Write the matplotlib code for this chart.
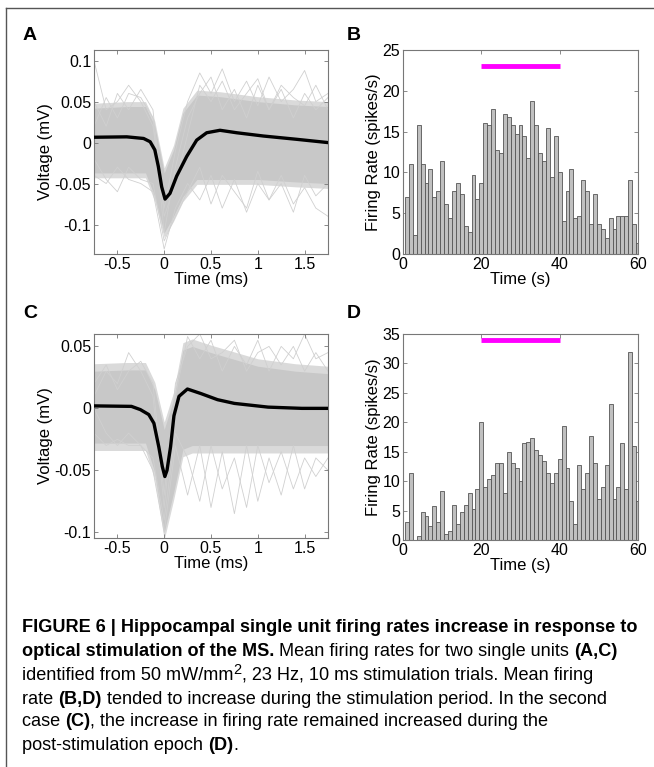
import numpy as np
import matplotlib
matplotlib.use("Agg")
import matplotlib.pyplot as plt
from matplotlib.lines import Line2D

plt.rcParams['font.family'] = ['Liberation Sans', 'DejaVu Sans']

# ---- waveform data (panel A) ----
t_mean_a = [-0.75, -0.4, -0.22, -0.15, -0.1, -0.063, -0.027, 0.009, 0.062, 0.133, 0.24, 0.347, 0.454, 0.596, 0.774, 1.06, 1.415, 1.75]
v_mean_a = [0.0065, 0.007, 0.005, 0.001, -0.009, -0.029, -0.054, -0.069, -0.062, -0.041, -0.017, 0.003, 0.012, 0.015, 0.012, 0.008, 0.004, 0.0]
t_env_a = [-0.75, -0.4, -0.2, -0.1, 0.0, 0.1, 0.2, 0.35, 0.6, 1.0, 1.4, 1.75]
up_env_a = [0.042, 0.044, 0.044, 0.020, -0.037, -0.009, 0.036, 0.058, 0.056, 0.050, 0.046, 0.044]
lo_env_a = [-0.037, -0.037, -0.037, -0.066, -0.110, -0.090, -0.066, -0.045, -0.045, -0.045, -0.048, -0.050]

# ---- waveform data (panel C) ----
t_mean_c = [-0.75, -0.35, -0.255, -0.165, -0.11, -0.058, -0.02, 0.007, 0.03, 0.068, 0.104, 0.158, 0.248, 0.39, 0.57, 0.75, 1.11, 1.47, 1.75]
v_mean_c = [0.002, 0.0016, -0.001, -0.005, -0.012, -0.031, -0.047, -0.055, -0.05, -0.031, -0.006, 0.0097, 0.0156, 0.012, 0.007, 0.004, 0.001, 0.0, 0.0]
t_env_c = [-0.75, -0.4, -0.2, -0.1, 0.0, 0.1, 0.2, 0.3, 0.5, 1.0, 1.4, 1.75]
up_env_c = [0.030, 0.031, 0.031, 0.015, -0.017, 0.007, 0.047, 0.050, 0.045, 0.034, 0.030, 0.028]
lo_env_c = [-0.028, -0.028, -0.028, -0.052, -0.100, -0.068, -0.033, -0.030, -0.030, -0.030, -0.030, -0.030]

# a few outlying single traces
t_out = [-0.75, -0.62, -0.5, -0.38, -0.25, -0.12, 0.0, 0.12, 0.25, 0.38, 0.5, 0.62, 0.75, 0.88, 1.0, 1.12,
         1.25, 1.38, 1.5, 1.62, 1.75]
out_a = [
    [0.100, 0.040, 0.050, 0.070, 0.050, 0.020, -0.080, -0.010, 0.050, 0.085, 0.060, 0.090, 0.050, 0.075, 0.045, 0.080, 0.050, 0.065, 0.088, 0.050, 0.060],
    [-0.040, -0.050, -0.030, -0.045, -0.050, -0.060, -0.130, -0.080, -0.050, -0.070, -0.040, -0.080, -0.045, -0.085, -0.050, -0.070, -0.040, -0.075, -0.055, -0.080, -0.090],
    [0.020, 0.055, 0.030, 0.060, 0.055, 0.030, -0.110, -0.030, 0.030, 0.060, 0.080, 0.040, 0.065, 0.030, 0.070, 0.040, 0.065, 0.030, 0.060, 0.040, 0.055],
    [-0.020, -0.045, -0.060, -0.030, -0.045, -0.050, -0.120, -0.090, -0.060, -0.030, -0.075, -0.040, -0.060, -0.080, -0.035, -0.070, -0.050, -0.085, -0.040, -0.065, -0.050],
    [0.050, 0.020, 0.060, 0.040, 0.065, 0.040, -0.090, -0.050, 0.010, 0.070, 0.050, 0.075, 0.040, 0.060, 0.078, 0.040, 0.070, 0.055, 0.045, 0.070, 0.040],
]
out_c = [
    [0.010, 0.030, 0.020, 0.045, 0.030, 0.010, -0.080, 0.010, 0.058, 0.040, 0.055, 0.030, 0.050, 0.035, 0.055, 0.030, 0.050, 0.040, 0.060, 0.040, 0.045],
    [-0.020, -0.030, -0.025, -0.030, -0.030, -0.050, -0.100, -0.030, -0.070, -0.030, -0.080, -0.035, -0.085, -0.030, -0.075, -0.040, -0.070, -0.030, -0.065, -0.040, -0.050],
    [0.000, -0.020, -0.030, -0.020, -0.030, -0.040, -0.090, -0.020, -0.040, -0.075, -0.030, -0.065, -0.040, -0.080, -0.030, -0.060, -0.035, -0.065, -0.040, -0.055, -0.040],
    [0.020, 0.035, 0.015, 0.030, 0.038, 0.020, -0.070, 0.020, 0.050, 0.060, 0.040, 0.045, 0.055, 0.030, 0.045, 0.050, 0.035, 0.050, 0.030, 0.045, 0.030],
]

# ---- firing-rate histograms (1 s bins, centres 1..60) ----
bins = list(range(1, 61))
rate_b = [7.0, 11.0, 2.3, 15.8, 11.0, 8.7, 10.4, 7.0, 7.7, 11.4,
          6.1, 4.4, 7.7, 8.7, 7.4, 3.4, 2.7, 9.7, 6.7, 8.7,
          16.1, 15.8, 17.8, 12.7, 12.4, 17.1, 16.8, 15.8, 14.7, 15.8,
          14.4, 11.8, 18.8, 15.8, 12.4, 11.4, 15.4, 9.4, 14.4, 10.0,
          4.0, 7.7, 10.4, 4.4, 4.7, 9.1, 7.7, 3.7, 7.4, 3.7,
          3.1, 2.0, 4.4, 3.1, 4.7, 4.7, 4.7, 9.1, 3.7, 1.35]
rate_d = [3.0, 11.4, 0.0, 0.7, 4.7, 4.0, 2.3, 5.7, 3.0, 8.4,
          1.0, 1.6, 6.0, 2.7, 4.7, 6.0, 8.0, 5.3, 8.7, 20.0,
          9.0, 10.3, 11.0, 13.0, 13.0, 8.0, 15.0, 13.0, 12.3, 10.0,
          16.4, 16.7, 17.4, 15.3, 14.4, 13.4, 11.4, 9.7, 11.4, 13.7,
          19.4, 12.3, 6.7, 2.7, 12.7, 8.7, 11.4, 17.7, 13.0, 7.0,
          9.0, 12.7, 23.1, 7.0, 9.0, 16.4, 8.7, 32.0, 16.0, 6.7]
stim_on, stim_off = 20, 40
stim_level_b = 23
stim_level_d = 34

W, H = 654, 767
fig = plt.figure(figsize=(W / 100, H / 100), dpi=100)


def ax_px(left, top, right, bottom):
    return fig.add_axes([left / W, 1 - bottom / H, (right - left) / W, (bottom - top) / H])


def style(ax):
    for s in ax.spines.values():
        s.set_color('#777777')
        s.set_linewidth(0.8)
    ax.tick_params(direction='in', length=3, width=0.6, color='#777777',
                   labelsize=11.5, top=True, right=True, pad=2)


def wave(ax, t_env, up, lo, outs, t_mean, v_mean):
    # soft outer rim, then the dense core of traces
    ax.fill_between(t_env, np.array(lo) - 0.006, np.array(up) + 0.006, color='#dadada', lw=0, zorder=1)
    ax.fill_between(t_env, lo, up, color='#c8c8c8', lw=0, zorder=1)
    for tr in outs:
        ax.plot(t_out, tr, color='#d0d0d0', lw=0.6, zorder=1)
    ax.plot(t_mean, v_mean, color='black', lw=2.4, zorder=3, solid_joinstyle='round')
    ax.set_xlim(-0.75, 1.75)
    ax.set_xticks([-0.5, 0, 0.5, 1, 1.5])
    ax.set_xticklabels(['-0.5', '0', '0.5', '1', '1.5'])
    ax.set_xlabel('Time (ms)', fontsize=12, labelpad=0.5)
    ax.set_ylabel('Voltage (mV)', fontsize=12, labelpad=1)
    style(ax)


def hist(ax, rate, level):
    ax.bar(bins, rate, width=1.0, color='#c0c0c0', edgecolor='#555555', linewidth=0.6, zorder=2)
    ax.plot([stim_on, stim_off], [level, level], color='#ff00ff', lw=3.5, solid_capstyle='butt', zorder=3)
    ax.set_xlim(0, 60)
    ax.set_xticks([0, 20, 40, 60])
    ax.set_xlabel('Time (s)', fontsize=12, labelpad=0.5)
    ax.set_ylabel('Firing Rate (spikes/s)', fontsize=12, labelpad=1)
    style(ax)


ax_a = ax_px(94, 50, 328, 254)
wave(ax_a, t_env_a, up_env_a, lo_env_a, out_a, t_mean_a, v_mean_a)
ax_a.set_ylim(-0.136, 0.113)
ax_a.set_yticks([-0.1, -0.05, 0, 0.05, 0.1])
ax_a.set_yticklabels(['-0.1', '-0.05', '0', '0.05', '0.1'])

ax_c = ax_px(94, 334, 328, 538)
wave(ax_c, t_env_c, up_env_c, lo_env_c, out_c, t_mean_c, v_mean_c)
ax_c.set_ylim(-0.1046, 0.06)
ax_c.set_yticks([-0.1, -0.05, 0, 0.05])
ax_c.set_yticklabels(['-0.1', '-0.05', '0', '0.05'])

ax_b = ax_px(403, 50, 638, 254)
hist(ax_b, rate_b, stim_level_b)
ax_b.set_ylim(0, 25)
ax_b.set_yticks([0, 5, 10, 15, 20, 25])

ax_d = ax_px(403, 334, 638, 540)
hist(ax_d, rate_d, stim_level_d)
ax_d.set_ylim(0, 35)
ax_d.set_yticks([0, 5, 10, 15, 20, 25, 30, 35])

# panel letters
for letter, x, y in [('A', 23, 36), ('B', 347, 36), ('C', 23, 313), ('D', 347, 313)]:
    fig.text(x / W, 1 - y / H, letter, fontsize=14, fontweight='bold', va='center', ha='left')

# frame lines (top and left)
fig.add_artist(Line2D([6 / W, 1], [1 - 7.5 / H, 1 - 7.5 / H], color='#555555', lw=1.0))
fig.add_artist(Line2D([6 / W, 6 / W], [1 - 7.5 / H, 0], color='#555555', lw=1.0))

# caption with mixed bold / regular runs
cap_font = ['Liberation Sans Narrow', 'Liberation Sans', 'DejaVu Sans']
cap_size = 13.1
lines = [
    [("FIGURE 6 | Hippocampal single unit firing rates increase in response to", 'bold')],
    [("optical stimulation of the MS.", 'bold'), (" Mean firing rates for two single units ", 'normal'), ("(A,C)", 'bold')],
    [("identified from 50 mW/mm", 'normal'), ("2", 'sup'), (", 23 Hz, 10 ms stimulation trials. Mean firing", 'normal')],
    [("rate ", 'normal'), ("(B,D)", 'bold'), (" tended to increase during the stimulation period. In the second", 'normal')],
    [("case ", 'normal'), ("(C)", 'bold'), (", the increase in firing rate remained increased during the", 'normal')],
    [("post-stimulation epoch ", 'normal'), ("(D)", 'bold'), (".", 'normal')],
]
line_y = [627, 651, 675, 699, 722, 745]
fig.canvas.draw()
renderer = fig.canvas.get_renderer()
for runs, y in zip(lines, line_y):
    x = 22
    for txt, kind in runs:
        if kind == 'sup':
            t = fig.text(x / W, 1 - (y - 5) / H, txt, fontsize=cap_size * 0.8,
                         family=cap_font, va='center', ha='left')
        else:
            t = fig.text(x / W, 1 - y / H, txt, fontsize=cap_size, family=cap_font,
                         fontweight=kind, va='center', ha='left')
        x += t.get_window_extent(renderer).width

fig.savefig('out.png', dpi=100)
